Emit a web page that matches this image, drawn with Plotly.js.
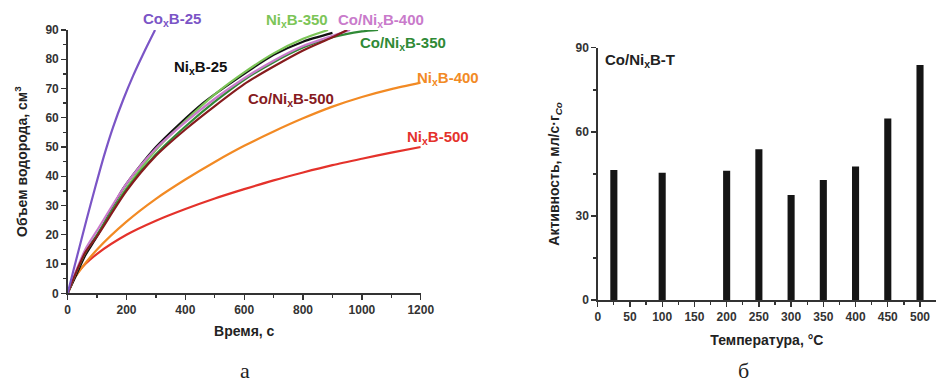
<!DOCTYPE html>
<html><head><meta charset="utf-8">
<script src="https://cdn.plot.ly/plotly-3.0.1.min.js"></script>
<style>html,body{margin:0;padding:0;background:#fff}#chart{width:936px;height:383px}</style>
</head><body><div id="chart"></div>
<script>
// ---- Panel а: hydrogen volume vs time ----
const coB25_t = [0, 20, 38, 65, 93, 125, 155, 190, 223, 260, 297];
const coB25_v = [0, 8, 15, 25.5, 36, 47.5, 57, 66.5, 74.5, 82.5, 90];

const niB25_t = [0, 30, 60, 100, 190, 300, 460, 600, 700, 800, 900];
const niB25_v = [0, 6.5, 13, 19.5, 36, 50, 65, 75, 81.5, 86, 89];

const niB350_t = [0, 30, 60, 100, 200, 300, 400, 500, 600, 700, 800, 885];
const niB350_v = [0, 7.5, 14, 20, 36, 49, 59, 68, 75.5, 82, 87, 90];

const coNiB400_t = [0, 30, 60, 100, 200, 300, 400, 500, 600, 700, 800, 900, 960];
const coNiB400_v = [0, 8, 15, 21.5, 37.5, 49.5, 58.5, 66.5, 73.5, 79.5, 84.5, 88, 90];

const coNiB350_t = [0, 30, 60, 100, 200, 300, 400, 500, 600, 700, 800, 900, 1000, 1055];
const coNiB350_v = [0, 7.5, 14, 20, 35.5, 47.5, 57, 65.5, 73, 79, 84, 87.5, 89.5, 90];

const coNiB500_t = [0, 30, 60, 100, 200, 300, 400, 500, 600, 700, 800, 900, 950];
const coNiB500_v = [0, 7.5, 14, 19.5, 35, 47, 56, 64, 71.5, 77.5, 83, 87.5, 90];

const niB400_t = [0, 25, 50, 100, 200, 300, 400, 500, 600, 700, 800, 900, 1000, 1100, 1200];
const niB400_v = [0, 5.5, 9, 15, 24.5, 32.3, 38.9, 44.9, 50.4, 55.3, 59.8, 63.8, 67.1, 69.8, 72];

const niB500_t = [0, 25, 50, 100, 200, 300, 400, 500, 600, 700, 800, 900, 1000, 1100, 1200];
const niB500_v = [0, 5.5, 9, 13.5, 20, 24.8, 28.8, 32.4, 35.6, 38.6, 41.3, 43.8, 46, 48.1, 50];

// ---- Panel б: activity vs temperature ----
const tempC = [25, 100, 200, 250, 300, 350, 400, 450, 500];
const activity = [46.4, 45.4, 46.1, 53.8, 37.5, 42.8, 47.6, 64.8, 83.9];

const FONT = 'Liberation Sans, Arial, sans-serif';
const AX = '#333';

function line(x, y, color, name) {
  return {x: x, y: y, type: 'scatter', mode: 'lines', name: name,
          line: {color: color, width: 2.2, shape: 'spline', smoothing: 0.7},
          xaxis: 'x', yaxis: 'y', showlegend: false, hoverinfo: 'skip'};
}

const traces = [
  line(niB500_t, niB500_v, '#E4322B', 'NixB-500'),
  line(niB400_t, niB400_v, '#F28A24', 'NixB-400'),
  line(niB25_t, niB25_v, '#111111', 'NixB-25'),
  line(niB350_t, niB350_v, '#7CC557', 'NixB-350'),
  line(coNiB350_t, coNiB350_v, '#2F8A36', 'Co/NixB-350'),
  line(coNiB400_t, coNiB400_v, '#C97BCB', 'Co/NixB-400'),
  line(coNiB500_t, coNiB500_v, '#861B1E', 'Co/NixB-500'),
  line(coB25_t, coB25_v, '#7B55C6', 'CoxB-25'),
  {x: tempC, y: activity, type: 'bar', width: 11, xaxis: 'x2', yaxis: 'y2',
   marker: {color: '#151515', line: {width: 0}}, showlegend: false, hoverinfo: 'skip'}
];

const tickFont = {family: FONT, size: 12, color: AX, weight: 'bold'};
const titleFont = {family: FONT, size: 14, color: '#222', weight: 'bold'};

function axisBase() {
  return {showgrid: false, zeroline: false, showline: true, linecolor: AX, linewidth: 1.5,
          ticks: 'outside', ticklen: 5, tickwidth: 1.3, tickcolor: AX,
          tickfont: tickFont, fixedrange: true};
}

// label positions in page pixels -> paper coords (plot area: x 0..936, y 30..300)
function px(x) { return x / 936; }
function py(y) { return (300 - y) / 270; }
function lab(x, y, text, color) {
  return {xref: 'paper', yref: 'paper', x: px(x), y: py(y), xanchor: 'center', yanchor: 'middle',
          text: text, font: {family: FONT, size: 15, color: color, weight: 'bold'}, showarrow: false};
}

const layout = {
  width: 936, height: 383,
  margin: {l: 0, r: 0, t: 30, b: 83},
  paper_bgcolor: '#fff', plot_bgcolor: 'rgba(0,0,0,0)',
  font: {family: FONT},
  xaxis: Object.assign(axisBase(), {
    domain: [0.0723, 0.4495], range: [0, 1200], anchor: 'y', dtick: 200,
    minor: {dtick: 100, ticks: 'outside', ticklen: 3, tickcolor: AX},
    title: {text: 'Время, с', font: titleFont, standoff: 10}
  }),
  yaxis: Object.assign(axisBase(), {
    domain: [0.0248, 1], range: [0, 90], anchor: 'x', dtick: 10,
    minor: {dtick: 5, ticks: 'outside', ticklen: 3, tickcolor: AX},
    title: {text: 'Объем водорода, см<sup>3</sup>', font: titleFont, standoff: 14}
  }),
  xaxis2: Object.assign(axisBase(), {
    domain: [0.6386, 1], range: [0, 524.8], anchor: 'y2', dtick: 50, tick0: 0,
    minor: {dtick: 25, ticks: 'outside', ticklen: 3, tickcolor: AX},
    title: {text: 'Температура, °C', font: titleFont, standoff: 12}
  }),
  yaxis2: Object.assign(axisBase(), {
    domain: [0, 0.934], range: [0, 90], anchor: 'x2', dtick: 30,
    minor: {dtick: 15, ticks: 'outside', ticklen: 3, tickcolor: AX},
    title: {text: 'Активность, мл/с·г<sub><i>Co</i></sub>', font: titleFont, standoff: 12}
  }),
  annotations: [
    lab(172, 19, 'Co<sub>x</sub>B-25', '#7B55C6'),
    lab(297, 21, 'Ni<sub>x</sub>B-350', '#7CC557'),
    lab(381, 21, 'Co/Ni<sub>x</sub>B-400', '#C97BCB'),
    lab(403, 44, 'Co/Ni<sub>x</sub>B-350', '#2F8A36'),
    lab(200, 67, 'Ni<sub>x</sub>B-25', '#111'),
    lab(291, 99, 'Co/Ni<sub>x</sub>B-500', '#861B1E'),
    lab(448, 78, 'Ni<sub>x</sub>B-400', '#F28A24'),
    lab(438, 137, 'Ni<sub>x</sub>B-500', '#E4322B'),
    lab(640, 60, 'Co/Ni<sub>x</sub>B-T', '#222'),
    {xref: 'paper', yref: 'paper', x: px(245), y: py(370), xanchor: 'center', yanchor: 'middle', text: 'а',
     font: {family: 'Liberation Serif, Times New Roman, serif', size: 22, color: '#222'}, showarrow: false},
    {xref: 'paper', yref: 'paper', x: px(743), y: py(370), xanchor: 'center', yanchor: 'middle', text: 'б',
     font: {family: 'Liberation Serif, Times New Roman, serif', size: 22, color: '#222'}, showarrow: false}
  ]
};

Plotly.newPlot('chart', traces, layout, {displayModeBar: false, staticPlot: true});
</script>
</body></html>
